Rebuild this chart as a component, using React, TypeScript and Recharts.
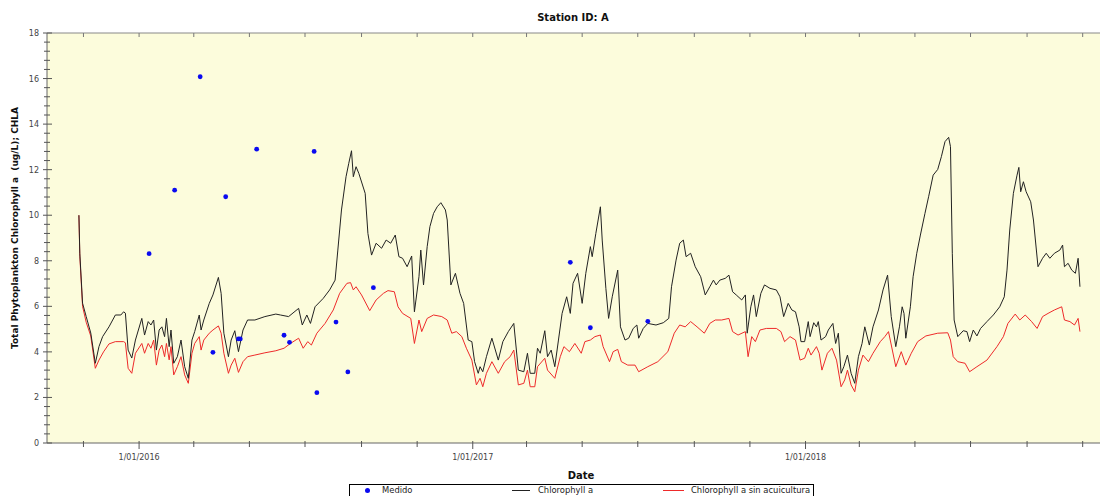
import React from 'react';
import { ComposedChart, Line, Scatter, XAxis, YAxis, CartesianGrid, Legend, ReferenceLine } from 'recharts';

// x values: days since 1 Jan 2016
const chlDays = [
  -66, -65, -62, -58, -53, -48, -44, -40, -33, -26,
  -20, -17, -15, -12, -8, -4, 3, 6, 10, 13,
  16, 19, 22, 25, 28, 30, 33, 35, 38, 42,
  46, 50, 54, 58, 61, 66, 68, 71, 77, 81,
  87, 90, 93, 98, 101, 105, 109, 114, 119, 127,
  138, 150, 155, 164, 175, 179, 184, 188, 193, 202,
  209, 215, 218, 222, 227, 230, 233, 235, 238, 241,
  248, 251, 255, 260, 266, 271, 276, 281, 285, 289,
  294, 299, 302, 307, 309, 312, 316, 319, 323, 327,
  331, 336, 338, 342, 347, 352, 356, 361, 365, 368,
  372, 374, 377, 381, 387, 394, 399, 405, 411, 416,
  422, 426, 429, 434, 437, 440, 445, 448, 452, 456,
  460, 464, 469, 473, 476, 481, 486, 490, 495, 497,
  501, 506, 508, 512, 515, 519, 525, 528, 533, 537,
  542, 546, 548, 553, 558, 567, 575, 581, 584, 589,
  593, 597, 600, 605, 610, 616, 621, 626, 630, 633,
  637, 643, 647, 651, 655, 661, 665, 667, 671, 674,
  677, 682, 686, 692, 699, 703, 707, 712, 716, 720,
  724, 726, 730, 734, 736, 740, 743, 745, 748, 753,
  756, 761, 764, 767, 770, 773, 777, 781, 785, 789,
  793, 796, 801, 805, 811, 816, 821, 825, 830, 834,
  837, 839, 841, 846, 849, 853, 857, 862, 866, 871,
  876, 880, 884, 888, 890, 892, 894, 898, 904, 908,
  911, 915, 919, 923, 930, 937, 944, 949, 952, 955,
  959, 963, 965, 967, 970, 973, 978, 981, 986, 991,
  995, 999, 1004, 1010, 1013, 1015, 1019, 1023, 1027, 1030,
  1032,
];
const chlValues = [
  10.0, 8.33, 6.14, 5.55, 4.83, 3.5, 4.23, 4.67, 5.1, 5.62,
  5.62, 5.76, 5.7, 4.08, 3.73, 4.52, 5.47, 4.74, 5.33, 5.18,
  5.4, 4.08, 4.96, 5.1, 4.67, 5.47, 4.23, 4.96, 3.5, 3.79,
  4.52, 3.35, 2.84, 4.52, 4.89, 5.62, 4.96, 5.4, 6.13, 6.5,
  7.27, 6.57, 4.82, 3.79, 4.52, 4.93, 4.01, 4.96, 5.4, 5.4,
  5.55, 5.66, 5.62, 5.55, 5.91, 5.18, 5.62, 5.25, 5.98, 6.35,
  6.72, 7.15, 8.47, 10.23, 11.69, 12.28, 12.83, 11.69, 12.13, 11.84,
  10.96, 9.2, 8.25, 8.77, 8.55, 8.91, 8.77, 9.13, 8.18, 8.11,
  7.74, 8.21, 5.76, 7.3, 8.47, 6.94, 8.62, 9.5, 10.08, 10.37,
  10.55, 10.23, 9.79, 6.94, 7.45, 6.57, 6.13, 4.52, 4.45, 3.57,
  3.06, 3.35, 3.13, 3.79, 4.6, 3.64, 4.45, 4.89, 5.25, 3.2,
  3.13, 3.94, 3.06, 3.06, 4.16, 3.94, 4.93, 3.79, 4.08, 3.35,
  4.52, 5.69, 6.42, 5.69, 7.01, 7.45, 6.13, 7.45, 8.62, 8.18,
  9.2, 10.37, 8.91, 6.79, 5.47, 6.42, 7.59, 5.1, 4.52, 4.6,
  5.03, 5.18, 4.6, 5.03, 5.25, 5.18, 5.28, 5.47, 6.86, 8.03,
  8.77, 8.91, 8.18, 8.33, 7.74, 7.3, 6.5, 6.86, 7.15, 6.94,
  7.15, 7.23, 7.37, 6.64, 6.5, 6.28, 6.5, 4.82, 5.98, 6.5,
  5.55, 6.57, 6.94, 6.79, 6.72, 6.42, 5.55, 6.13, 5.84, 5.76,
  5.1, 4.45, 4.45, 5.33, 4.67, 5.28, 5.1, 5.33, 4.52, 4.67,
  4.96, 5.25, 4.37, 4.82, 3.06, 3.35, 3.86, 3.06, 2.62, 3.79,
  4.37, 5.1, 4.3, 5.1, 5.84, 6.72, 7.37, 5.55, 4.23, 5.1,
  5.98, 5.69, 4.6, 5.98, 7.3, 8.33, 9.13, 10.08, 10.81, 11.76,
  12.01, 12.57, 13.23, 13.42, 13.01, 8.33, 5.4, 4.67, 4.93, 4.89,
  4.45, 4.96, 4.7, 5.03, 5.33, 5.62, 5.98, 6.42, 7.59, 9.35,
  10.96, 11.76, 12.1, 11.03, 11.47, 11.03, 10.59, 9.79, 7.74, 8.11,
  8.33, 8.11, 8.33, 8.47, 8.69, 7.74, 7.89, 7.59, 7.45, 8.11,
  6.86,
];

const sinDays = [
  -66, -65, -62, -58, -53, -48, -44, -39, -33, -26,
  -17, -15, -12, -8, -4, 3, 6, 10, 13, 16,
  19, 22, 25, 28, 30, 33, 35, 38, 42, 46,
  50, 54, 58, 61, 66, 68, 71, 77, 81, 87,
  90, 93, 98, 101, 105, 109, 114, 119, 127, 138,
  150, 159, 166, 175, 180, 185, 189, 195, 204, 213,
  220, 228, 232, 235, 238, 244, 253, 260, 268, 273,
  280, 284, 289, 298, 302, 307, 310, 316, 323, 332,
  338, 343, 348, 354, 359, 365, 370, 374, 377, 381,
  387, 394, 401, 407, 411, 416, 422, 426, 429, 434,
  437, 445, 448, 456, 462, 466, 472, 478, 485, 489,
  495, 500, 506, 509, 516, 520, 525, 529, 536, 544,
  548, 558, 569, 580, 587, 593, 599, 605, 612, 620,
  626, 632, 639, 647, 651, 657, 665, 668, 672, 676,
  681, 688, 699, 704, 708, 714, 720, 725, 730, 734,
  737, 743, 746, 749, 755, 760, 765, 770, 774, 777,
  781, 785, 789, 794, 800, 805, 813, 818, 822, 830,
  836, 841, 847, 854, 863, 876, 887, 890, 893, 898,
  906, 911, 919, 930, 941, 948, 953, 961, 966, 972,
  979, 985, 991, 997, 1004, 1012, 1015, 1021, 1026, 1030,
  1032,
];
const sinValues = [
  10.0, 8.2, 6.0, 5.3, 4.7, 3.28, 3.64, 4.0, 4.35, 4.45,
  4.45, 4.4, 3.28, 3.06, 3.94, 4.37, 3.94, 4.37, 4.16, 4.52,
  3.42, 4.08, 4.3, 3.79, 4.37, 3.65, 4.23, 2.99, 3.35, 3.79,
  2.99, 2.62, 3.94, 4.37, 4.67, 4.08, 4.52, 4.82, 4.96, 5.14,
  4.82, 3.94, 3.06, 3.42, 3.72, 3.1, 3.57, 3.79, 3.86, 3.96,
  4.05, 4.16, 4.37, 4.6, 4.16, 4.45, 4.3, 4.82, 5.25, 5.84,
  6.57, 7.01, 7.04, 6.72, 6.86, 6.5, 5.81, 6.28, 6.57, 6.69,
  6.64, 5.98, 5.69, 5.47, 4.37, 5.4, 4.89, 5.47, 5.62, 5.55,
  5.4, 4.82, 4.89, 4.67, 4.16, 3.64, 2.55, 2.84, 2.47, 3.06,
  3.57, 3.06, 3.57, 3.79, 4.08, 2.55, 2.62, 3.2, 2.47, 2.47,
  3.35, 3.72, 3.2, 2.84, 3.79, 4.23, 4.01, 4.37, 3.94, 4.45,
  4.52, 4.67, 4.74, 4.23, 3.57, 4.01, 4.11, 3.57, 3.42, 3.42,
  3.13, 3.35, 3.57, 4.01, 4.82, 5.18, 5.1, 5.33, 5.1, 4.82,
  5.25, 5.4, 5.4, 5.47, 4.89, 4.74, 4.89, 3.79, 4.67, 4.45,
  4.96, 5.03, 5.03, 4.89, 4.45, 4.67, 4.52, 3.64, 3.72, 4.16,
  3.86, 4.23, 3.94, 3.2, 3.94, 4.16, 3.64, 2.47, 2.77, 3.2,
  2.55, 2.25, 3.2, 3.86, 3.57, 3.94, 4.45, 4.67, 4.89, 3.35,
  4.01, 3.42, 3.94, 4.45, 4.7, 4.82, 4.84, 4.52, 3.79, 3.57,
  3.5, 3.13, 3.35, 3.64, 4.23, 4.67, 5.25, 5.66, 5.4, 5.62,
  5.33, 5.03, 5.55, 5.69, 5.84, 5.98, 5.4, 5.33, 5.18, 5.47,
  4.89,
];

const medDays = [11, 39, 67, 81, 95, 109, 111, 129, 159, 165, 192, 195, 216, 229, 257, 473, 495, 558];
const medValues = [8.31, 11.1, 16.08, 3.98, 10.81, 4.57, 4.57, 12.9, 4.73, 4.42, 12.8, 2.21, 5.31, 3.12, 6.82, 7.93, 5.06, 5.34];

const yearTicks = [0, 366, 731];
const yearLabels = ['1/01/2016', '1/01/2017', '1/01/2018'];
const monthTicks = [-61, 60, 121, 182, 244, 305, 425, 486, 547, 609, 670, 790, 851, 912, 974, 1035];
const yTicks = [
  0, 0.4, 0.8, 1.2, 1.6, 2, 2.4, 2.8, 3.2, 3.6, 4, 4.4, 4.8, 5.2, 5.6, 6,
  6.4, 6.8, 7.2, 7.6, 8, 8.4, 8.8, 9.2, 9.6, 10, 10.4, 10.8, 11.2, 11.6, 12,
  12.4, 12.8, 13.2, 13.6, 14, 14.4, 14.8, 15.2, 15.6, 16, 16.4, 16.8, 17.2, 17.6, 18,
];
const yMajorLabels = ['0', '2', '4', '6', '8', '10', '12', '14', '16', '18'];

const TITLE = 'Station ID: A';
const X_TITLE = 'Date';
const Y_TITLE = 'Total Phytoplankton Chlorophyll a  (ug/L); CHLA';
const SERIES_NAMES = ['Medido', 'Chlorophyll a', 'Chlorophyll a sin acuicultura'];

const chlData = chlDays.map((d, i) => ({ d, v: chlValues[i] }));
const sinData = sinDays.map((d, i) => ({ d, v: sinValues[i] }));
const medData = medDays.map((d, i) => ({ d, v: medValues[i] }));
const xTicksAll = [...monthTicks, ...yearTicks].sort((a, b) => a - b);

const FONT = "'DejaVu Sans', Verdana, sans-serif";
const PLOT_TOP = 33;
const BG = '#fcfcdc';
const BLACK_LINE = '#222222';
const RED_LINE = '#ee2a2a';
const BLUE = '#0a0af0';

const XTick = (props: any) => {
  const { x, y, payload } = props;
  const idx = yearTicks.indexOf(payload.value);
  const major = idx >= 0;
  return (
    <g>
      <line x1={x} x2={x} y1={y - 2} y2={y + (major ? 6 : 4)} stroke="#555" />
      <line x1={x} x2={x} y1={PLOT_TOP} y2={PLOT_TOP + 4} stroke="#777" />
      {major && (
        <text x={x} y={y + 17} textAnchor="middle" fontFamily={FONT} fontSize={8} fill="#444">
          {yearLabels[idx]}
        </text>
      )}
    </g>
  );
};

const YTick = (props: any) => {
  const { x, y, payload } = props;
  const v = payload.value;
  const major = Number.isInteger(v) && v % 2 === 0;
  return (
    <g>
      <line x1={x - (major ? 4 : 3)} x2={x + (major ? 5 : 3)} y1={y} y2={y} stroke="#555" />
      {major && (
        <text x={x - 8} y={y + 3} textAnchor="end" fontFamily={FONT} fontSize={8} fill="#444">
          {yMajorLabels[v / 2]}
        </text>
      )}
    </g>
  );
};

const YLabel = () => (
  <text
    x={0}
    y={0}
    transform="translate(18,228) rotate(-90)"
    textAnchor="middle"
    fontFamily={FONT}
    fontSize={9}
    fontWeight="bold"
    fill="#111"
    style={{ whiteSpace: 'pre' }}
  >
    {Y_TITLE}
  </text>
);

const XLabel = () => (
  <text x={581} y={479} textAnchor="middle" fontFamily={FONT} fontSize={10} fontWeight="bold" fill="#111">
    {X_TITLE}
  </text>
);

const TitleLabel = () => (
  <text x={573} y={21} textAnchor="middle" fontFamily={FONT} fontSize={10} fontWeight="bold" fill="#111">
    {TITLE}
  </text>
);

const LegendBox = () => (
  <div
    style={{
      position: 'relative',
      width: 465,
      height: 13,
      border: '1px solid #000',
      boxSizing: 'border-box',
      background: '#fff',
      fontFamily: FONT,
      fontSize: 8.4,
      color: '#222',
      lineHeight: '10px',
    }}
  >
    <span style={{ position: 'absolute', left: 15, top: 3, width: 5, height: 5, borderRadius: '50%', background: BLUE }} />
    <span style={{ position: 'absolute', left: 32, top: 0 }}>{SERIES_NAMES[0]}</span>
    <span style={{ position: 'absolute', left: 162, top: 5, width: 18, height: 1, background: BLACK_LINE }} />
    <span style={{ position: 'absolute', left: 188, top: 0 }}>{SERIES_NAMES[1]}</span>
    <span style={{ position: 'absolute', left: 313, top: 5, width: 21, height: 1, background: RED_LINE }} />
    <span style={{ position: 'absolute', left: 341, top: 0 }}>{SERIES_NAMES[2]}</span>
  </div>
);

export default function App() {
  return (
    <div style={{ position: 'absolute', left: 0, top: 0, width: 1100, height: 496, overflow: 'hidden', background: '#fff' }}>
      <ComposedChart width={1100} height={496} margin={{ top: PLOT_TOP, right: 0, bottom: 0, left: 7 }}>
        <CartesianGrid fill={BG} horizontal={false} vertical={false} />
        <XAxis
          type="number"
          dataKey="d"
          domain={[-101, 1054]}
          allowDataOverflow
          ticks={xTicksAll}
          interval={0}
          tick={<XTick />}
          tickLine={false}
          tickSize={0}
          tickMargin={0}
          height={53}
          axisLine={{ stroke: '#666' }}
          label={<XLabel />}
        />
        <YAxis
          type="number"
          domain={[0, 18]}
          allowDataOverflow
          ticks={yTicks}
          interval={0}
          tick={<YTick />}
          tickLine={false}
          tickSize={0}
          tickMargin={0}
          width={40}
          axisLine={{ stroke: '#666' }}
          label={<YLabel />}
        />
        <ReferenceLine y={18} stroke="#888" label={<TitleLabel />} />
        <Line
          data={sinData}
          dataKey="v"
          name={SERIES_NAMES[2]}
          stroke={RED_LINE}
          strokeWidth={1}
          dot={false}
          activeDot={false}
          type="linear"
          isAnimationActive={false}
        />
        <Line
          data={chlData}
          dataKey="v"
          name={SERIES_NAMES[1]}
          stroke={BLACK_LINE}
          strokeWidth={1}
          dot={false}
          activeDot={false}
          type="linear"
          isAnimationActive={false}
        />
        <Scatter
          data={medData}
          dataKey="v"
          name={SERIES_NAMES[0]}
          fill={BLUE}
          isAnimationActive={false}
          shape={(p: any) => <circle cx={p.cx} cy={p.cy} r={2.4} fill={BLUE} />}
        />
        <Legend
          layout="vertical"
          verticalAlign="middle"
          align="center"
          wrapperStyle={{ left: 349, top: 484, width: 465, height: 13 }}
          content={<LegendBox />}
        />
      </ComposedChart>
    </div>
  );
}
